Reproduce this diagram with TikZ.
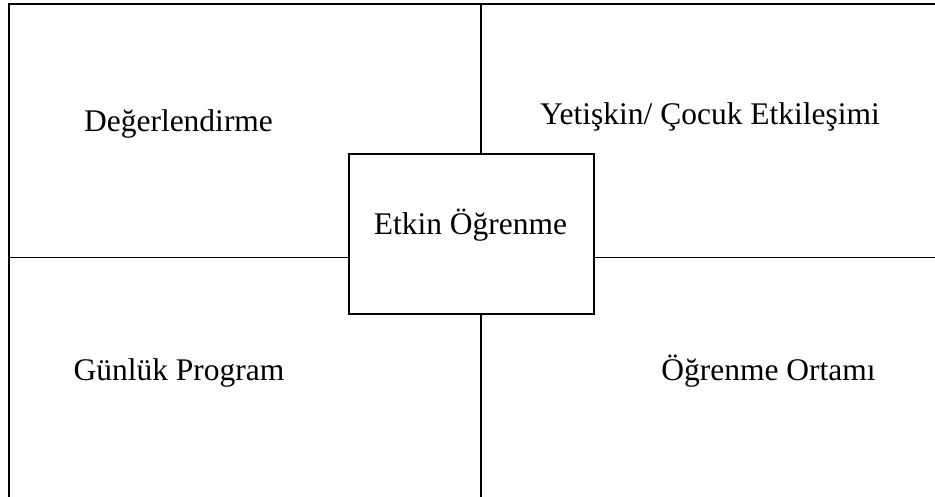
\documentclass[tikz,border=0pt]{standalone}
\usepackage{fontspec}
\setmainfont{Liberation Serif}
\begin{document}
\begin{tikzpicture}[x=1pt,y=-1pt,
  label/.style={anchor=base,inner sep=0pt,font=\fontsize{31.5}{38}\selectfont},
  frame/.style={line width=2pt},
  divider/.style={line width=1.4pt},
  centerbox/.style={draw,fill=white,line width=1.7pt,minimum width=245pt,minimum height=160pt,inner sep=0pt}]
\useasboundingbox (0,0) rectangle (935,497);
% outer frame: left and top edges
\coordinate (tl) at (9,4);
\coordinate (tr) at (935,4);
\coordinate (bl) at (9,497);
\draw[frame,line cap=rect] (bl) -- (tl) -- (tr);
% dividing lines
\coordinate (vtop) at (481,4);
\coordinate (vbot) at (481,497);
\coordinate (hl) at (9,257.5);
\coordinate (hr) at (935,257.5);
\draw[divider] (vtop) -- (vbot);
\draw[divider] (hl) -- (hr);
% central box
\node[centerbox] (core) at (471.5,234) {};
\node[label] (coretxt) at (470.5,235) {Etkin Öğrenme};
% quadrant labels
\node[label] (q1) at (178.5,131.7) {Değerlendirme};
\node[label] (q2) at (710,125) {Yetişkin/ Çocuk Etkileşimi};
\node[label] (q3) at (179,380) {Günlük Program};
\node[label] (q4) at (768.5,380) {Öğrenme Ortamı};
\end{tikzpicture}
\end{document}
